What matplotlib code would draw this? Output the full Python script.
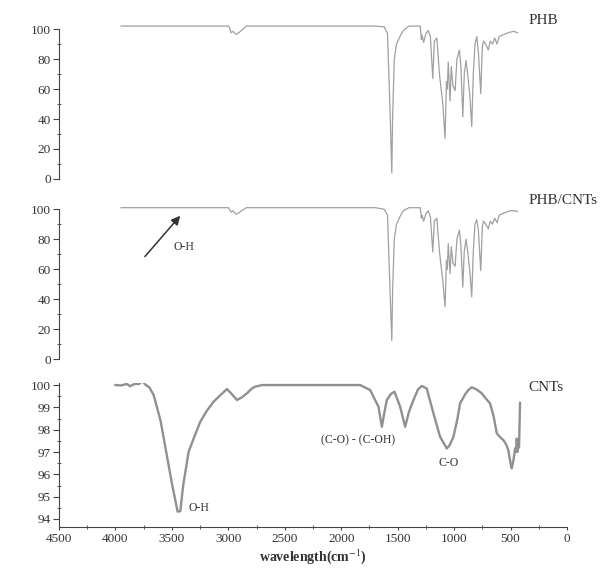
import numpy as np
import matplotlib
matplotlib.use('Agg')
import matplotlib.pyplot as plt
from matplotlib.ticker import MultipleLocator

plt.rcParams['font.family'] = ['Liberation Serif', 'DejaVu Serif']
plt.rcParams['mathtext.fontset'] = 'stix'

# PHB spectrum (wavenumber cm-1, transmittance %)
phb_wn = [3950, 3000, 2990, 2975, 2960, 2930, 2900, 2870, 2840, 1700, 1620, 1590, 1565, 1552,
          1545, 1530, 1510, 1480, 1450, 1400, 1300, 1290, 1283, 1270, 1250, 1230, 1210, 1189,
          1175, 1153, 1130, 1100, 1080, 1068, 1060, 1052, 1036, 1025, 1010, 991, 975, 953,
          940, 923, 910, 894, 880, 860, 844, 830, 815, 799, 785, 764, 750, 740, 720, 697,
          680, 660, 640, 620, 600, 570, 540, 500, 470, 440]
phb_t = [102, 102, 101, 97.5, 98.5, 96.5, 98, 100, 102, 102, 101.5, 97, 40, 4,
         40, 80, 90, 95, 99, 102, 102, 93, 96, 91, 97, 99, 95, 67,
         92, 94, 70, 50, 27, 65, 60, 78, 52, 75, 62, 59, 80, 86,
         75, 41.5, 70, 79, 70, 55, 35, 70, 90, 95, 85, 57, 88, 92, 90, 86,
         92, 90, 94, 90, 95, 96, 97, 98, 98.5, 97.5]

# PHB/CNTs spectrum
phbcnt_wn = phb_wn
phbcnt_t = [101, 101, 100, 98, 99, 96.5, 98, 99.5, 101, 101, 100, 96, 40, 12.5,
            45, 80, 90, 95, 99, 101, 101, 94, 96, 92, 97, 99, 95, 71.5,
            92, 94, 72, 52, 35, 66, 60, 77, 57, 75, 64, 62, 80, 86,
            76, 48, 72, 80, 72, 58, 41.5, 72, 90, 93, 86, 59, 88, 92, 90, 87,
            92, 90, 94, 91, 96, 97, 98, 99, 99, 98.5]

# CNTs spectrum
cnt_wn = [4000, 3950, 3900, 3870, 3830, 3790, 3764, 3730, 3700, 3661, 3600, 3550, 3500, 3449,
          3425, 3400, 3352, 3300, 3248, 3190, 3131, 3070, 3012, 2970, 2923, 2880, 2835, 2790,
          2761, 2700, 2000, 1832, 1744, 1670, 1640, 1620, 1596, 1560, 1528, 1478, 1434, 1400,
          1360, 1320, 1286, 1242, 1183, 1124, 1065, 1040, 1006, 970, 947, 900, 873, 844,
          800, 755, 720, 682, 650, 622, 590, 564, 540, 520, 500, 490, 475, 460,
          450, 445, 440, 435, 425, 416]
cnt_t = [100, 99.98, 100.05, 99.95, 100.05, 100.05, 100.18, 100.0, 99.9, 99.55, 98.4, 97.0, 95.6, 94.33,
         94.35, 95.5, 97.0, 97.7, 98.36, 98.85, 99.25, 99.55, 99.82, 99.6, 99.33, 99.45, 99.63, 99.85,
         99.93, 100, 100, 100, 99.78, 99.03, 98.13, 98.7, 99.33, 99.6, 99.7, 99.03, 98.13, 98.8,
         99.33, 99.8, 99.96, 99.84, 98.73, 97.68, 97.16, 97.3, 97.68, 98.5, 99.18, 99.6, 99.78, 99.9,
         99.8, 99.63, 99.4, 99.18, 98.6, 97.84, 97.65, 97.54, 97.35, 97.09, 96.5, 96.27, 96.6, 97.16,
         97.0, 97.6, 97.0, 97.4, 97.2, 99.2]

fig = plt.figure(figsize=(6.03, 5.70), dpi=100)
left, width = 0.0978, 0.8425
ax1 = fig.add_axes([left, 0.686, width, 0.263])
ax2 = fig.add_axes([left, 0.370, width, 0.263])
ax3 = fig.add_axes([left, 0.0754, width, 0.2526])

axcol = '#444444'
txtcol = '#333333'

ax1.plot(phb_wn, phb_t, color='#a0a0a0', lw=0.9, clip_on=False)
ax2.plot(phbcnt_wn, phbcnt_t, color='#a0a0a0', lw=0.9, clip_on=False)
for ax in (ax1, ax2):
    ax.set_xlim(4500, 0)
    ax.set_ylim(0, 100)
    for s in ('top', 'right', 'bottom'):
        ax.spines[s].set_visible(False)
    ax.spines['left'].set_color(axcol)
    ax.set_xticks([])
    ax.yaxis.set_major_locator(MultipleLocator(20))
    ax.yaxis.set_minor_locator(MultipleLocator(10))

ax3.plot(cnt_wn, cnt_t, color='#909090', lw=1.7)
ax3.set_xlim(4500, 0)
ax3.set_ylim(93.64, 100.09)
for s in ('top', 'right'):
    ax3.spines[s].set_visible(False)
ax3.spines['left'].set_color(axcol)
ax3.spines['bottom'].set_color(axcol)
ax3.yaxis.set_major_locator(MultipleLocator(1))
ax3.yaxis.set_minor_locator(MultipleLocator(0.5))
ax3.xaxis.set_major_locator(MultipleLocator(500))
ax3.xaxis.set_minor_locator(MultipleLocator(250))
ax3.set_xlabel('wavelength(cm$^{-1}$)', fontsize=10, fontweight='bold', color=txtcol, labelpad=2)

for ax in (ax1, ax2, ax3):
    ax.tick_params(axis='both', which='major', direction='out', length=4, width=0.8,
                   color=axcol, labelsize=9.5, labelcolor=txtcol, pad=2)
    ax.tick_params(axis='both', which='minor', direction='inout', length=3, width=0.6, color=axcol)
ax3.tick_params(axis='x', which='major', length=2)

ax1.text(345, 106, 'PHB', fontsize=11, color=txtcol, va='center', ha='left', clip_on=False)
ax2.text(345, 106, 'PHB/CNTs', fontsize=11, color=txtcol, va='center', ha='left', clip_on=False)
ax3.text(345, 99.87, 'CNTs', fontsize=11, color=txtcol, va='center', ha='left', clip_on=False)

ax2.annotate('', xy=(3410, 97), xytext=(3755, 67),
             arrowprops=dict(arrowstyle='-|>', color='#333333', lw=1.1, mutation_scale=13))
ax2.text(3390, 75, 'O-H', fontsize=8.5, color=txtcol, ha='center', va='center')

ax3.text(3355, 94.5, 'O-H', fontsize=8.5, color=txtcol, ha='left', va='center')
ax3.text(1854, 97.54, '(C-O) - (C-OH)', fontsize=8.5, color=txtcol, ha='center', va='center')
ax3.text(1049, 96.5, 'C-O', fontsize=8.5, color=txtcol, ha='center', va='center')

fig.savefig('out.png', dpi=100)
